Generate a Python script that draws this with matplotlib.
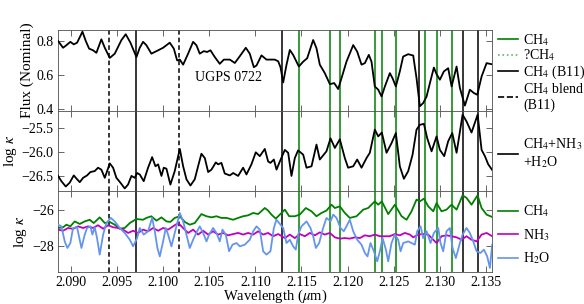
import numpy as np
import matplotlib
matplotlib.use("Agg")
import matplotlib.pyplot as plt
from matplotlib.lines import Line2D

plt.rcParams['font.family'] = ['Liberation Serif', 'DejaVu Serif']
plt.rcParams['mathtext.fontset'] = 'stix'
plt.rcParams['font.size'] = 10

# observed spectrum (top panel)
flux_wl = [2.08863, 2.08917, 2.08953, 2.08996, 2.09033, 2.09069, 2.09127, 2.09163, 2.09199,
           2.09242, 2.09278, 2.09332, 2.09369, 2.09423, 2.09477, 2.09549, 2.09596, 2.09647,
           2.09712, 2.09748, 2.09784, 2.09820, 2.09874, 2.09929, 2.10001, 2.10073, 2.10117,
           2.10153, 2.10182, 2.10218, 2.10272, 2.10326, 2.10362, 2.10398, 2.10442, 2.10478,
           2.10514, 2.10561, 2.10615, 2.10659, 2.10724, 2.10778, 2.10832, 2.10897, 2.10940,
           2.10984, 2.11013, 2.11067, 2.11121, 2.11164, 2.11211, 2.11248, 2.11273, 2.11302,
           2.11338, 2.11374, 2.11410, 2.11472, 2.11519, 2.11562, 2.11627, 2.11663, 2.11699,
           2.11753, 2.11808, 2.11855, 2.11898, 2.11934, 2.11988, 2.12061, 2.12104, 2.12151,
           2.12187, 2.12230, 2.12259, 2.12295, 2.12332, 2.12368, 2.12404, 2.12458, 2.12487,
           2.12523, 2.12566, 2.12602, 2.12657, 2.12711, 2.12747, 2.12783, 2.12819, 2.12856,
           2.12892, 2.12935, 2.12964, 2.13000, 2.13043, 2.13090, 2.13127, 2.13181, 2.13217,
           2.13271, 2.13325, 2.13369, 2.13405, 2.13452, 2.13506, 2.13560]
flux_val = [0.800, 0.760, 0.775, 0.795, 0.780, 0.790, 0.855, 0.800, 0.755,
            0.745, 0.730, 0.810, 0.760, 0.700, 0.725, 0.805, 0.840, 0.790,
            0.705, 0.760, 0.795, 0.775, 0.725, 0.740, 0.760, 0.790, 0.755,
            0.685, 0.690, 0.660, 0.725, 0.795, 0.775, 0.725, 0.740, 0.735,
            0.745, 0.705, 0.665, 0.690, 0.690, 0.670, 0.710, 0.760, 0.725,
            0.645, 0.655, 0.715, 0.690, 0.690, 0.690, 0.680, 0.645, 0.555,
            0.659, 0.747, 0.718, 0.649, 0.678, 0.698, 0.806, 0.757, 0.660,
            0.610, 0.545, 0.551, 0.516, 0.580, 0.678, 0.776, 0.737, 0.660,
            0.669, 0.718, 0.678, 0.531, 0.512, 0.472, 0.531, 0.610, 0.580,
            0.531, 0.620, 0.708, 0.722, 0.714, 0.580, 0.414, 0.433, 0.472,
            0.551, 0.643, 0.604, 0.571, 0.620, 0.639, 0.531, 0.649, 0.522,
            0.418, 0.512, 0.492, 0.482, 0.590, 0.669, 0.663]

# total opacity (middle panel)
tot_wl = [2.08863, 2.08899, 2.08946, 2.08989, 2.09033, 2.09069, 2.09098, 2.09134, 2.09177,
          2.09213, 2.09260, 2.09296, 2.09332, 2.09369, 2.09423, 2.09459, 2.09495, 2.09538,
          2.09585, 2.09621, 2.09658, 2.09694, 2.09719, 2.09748, 2.09791, 2.09838, 2.09882,
          2.09918, 2.09947, 2.09983, 2.10008, 2.10037, 2.10080, 2.10127, 2.10182, 2.10218,
          2.10254, 2.10297, 2.10344, 2.10380, 2.10416, 2.10453, 2.10489, 2.10525, 2.10572,
          2.10597, 2.10633, 2.10669, 2.10724, 2.10760, 2.10814, 2.10868, 2.10904, 2.10958,
          2.11005, 2.11049, 2.11103, 2.11139, 2.11164, 2.11201, 2.11230, 2.11266, 2.11320,
          2.11356, 2.11392, 2.11428, 2.11464, 2.11519, 2.11555, 2.11609, 2.11663, 2.11699,
          2.11771, 2.11815, 2.11862, 2.11916, 2.11970, 2.12006, 2.12061, 2.12104, 2.12151,
          2.12205, 2.12241, 2.12295, 2.12332, 2.12371, 2.12422, 2.12476, 2.12523, 2.12566,
          2.12610, 2.12657, 2.12704, 2.12747, 2.12783, 2.12827, 2.12863, 2.12910, 2.12964,
          2.13000, 2.13047, 2.13090, 2.13134, 2.13181, 2.13246, 2.13289, 2.13343, 2.13409,
          2.13452, 2.13488, 2.13524, 2.13568]
tot_val = [-26.49, -26.60, -26.71, -26.63, -26.48, -26.56, -26.62, -26.53, -26.48,
           -26.41, -26.39, -26.32, -26.36, -26.53, -26.23, -26.32, -26.53, -26.63,
           -26.75, -26.67, -26.49, -26.53, -26.43, -26.46, -26.60, -26.32, -26.10,
           -26.29, -26.25, -26.49, -26.32, -26.34, -26.67, -26.39, -25.93, -26.29,
           -26.56, -26.69, -26.56, -26.29, -26.03, -26.12, -26.41, -26.36, -26.21,
           -26.25, -26.22, -26.44, -26.48, -26.43, -26.49, -26.32, -26.46, -26.25,
           -26.00, -26.08, -25.93, -26.19, -26.22, -26.15, -26.36, -26.19, -25.95,
           -26.01, -26.49, -26.12, -25.96, -26.05, -26.32, -26.29, -25.84, -26.15,
           -25.98, -25.71, -25.91, -25.73, -26.12, -26.32, -26.29, -26.15, -26.32,
           -26.12, -26.01, -25.53, -25.67, -25.59, -26.01, -25.81, -25.60, -26.29,
           -26.55, -26.39, -26.05, -25.53, -25.43, -25.41, -25.71, -25.98, -25.67,
           -25.95, -26.08, -25.77, -25.60, -26.01, -25.22, -25.36, -25.59, -25.22,
           -25.95, -26.08, -26.25, -26.37]

# individual opacities (bottom panel)
ch4_wl = [2.08863, 2.08917, 2.08953, 2.08996, 2.09043, 2.09098, 2.09152, 2.09206, 2.09249,
          2.09314, 2.09369, 2.09423, 2.09477, 2.09531, 2.09585, 2.09640, 2.09712, 2.09784,
          2.09820, 2.09874, 2.09929, 2.09983, 2.10037, 2.10080, 2.10127, 2.10182, 2.10236,
          2.10290, 2.10344, 2.10416, 2.10471, 2.10525, 2.10579, 2.10633, 2.10687, 2.10760,
          2.10814, 2.10868, 2.10922, 2.10977, 2.11031, 2.11103, 2.11139, 2.11175, 2.11222,
          2.11266, 2.11320, 2.11367, 2.11428, 2.11482, 2.11547, 2.11609, 2.11663, 2.11717,
          2.11771, 2.11826, 2.11862, 2.11916, 2.11970, 2.12024, 2.12097, 2.12169, 2.12223,
          2.12295, 2.12332, 2.12371, 2.12440, 2.12512, 2.12585, 2.12639, 2.12693, 2.12747,
          2.12783, 2.12827, 2.12874, 2.12928, 2.12964, 2.13018, 2.13072, 2.13126, 2.13181,
          2.13246, 2.13289, 2.13343, 2.13408, 2.13452, 2.13506, 2.13567]
ch4_val = [-27.00, -26.96, -26.82, -26.91, -26.64, -26.78, -26.64, -26.55, -26.73,
           -26.42, -26.73, -26.67, -26.82, -27.04, -27.00, -26.73, -26.51, -26.55,
           -26.45, -26.36, -26.60, -26.42, -26.64, -26.67, -26.45, -26.36, -26.67,
           -26.82, -26.73, -26.24, -26.36, -26.42, -26.36, -26.45, -26.45, -26.55,
           -26.45, -26.36, -26.31, -26.18, -26.24, -25.91, -26.05, -26.27, -26.49,
           -26.27, -26.00, -26.36, -26.36, -26.27, -25.91, -26.09, -26.36, -26.18,
           -26.05, -25.73, -25.91, -25.82, -26.18, -26.45, -26.36, -26.00, -25.91,
           -25.55, -25.73, -25.55, -26.24, -25.73, -26.36, -26.55, -26.09, -25.45,
           -25.55, -25.40, -25.82, -26.09, -25.64, -26.09, -26.00, -25.73, -26.00,
           -25.22, -25.36, -25.73, -25.22, -25.91, -26.27, -26.40]

nh3_wl = [2.08863, 2.08917, 2.08971, 2.09025, 2.09079, 2.09134, 2.09188, 2.09242, 2.09296,
          2.09351, 2.09405, 2.09459, 2.09513, 2.09567, 2.09622, 2.09676, 2.09730, 2.09784,
          2.09838, 2.09893, 2.09947, 2.10001, 2.10055, 2.10109, 2.10164, 2.10218, 2.10272,
          2.10326, 2.10380, 2.10435, 2.10489, 2.10543, 2.10597, 2.10651, 2.10706, 2.10760,
          2.10814, 2.10868, 2.10922, 2.10977, 2.11031, 2.11085, 2.11139, 2.11193, 2.11248,
          2.11320, 2.11374, 2.11428, 2.11482, 2.11537, 2.11591, 2.11645, 2.11699, 2.11753,
          2.11808, 2.11862, 2.11916, 2.11970, 2.12024, 2.12079, 2.12133, 2.12187, 2.12241,
          2.12295, 2.12350, 2.12404, 2.12458, 2.12512, 2.12566, 2.12621, 2.12675, 2.12711,
          2.12765, 2.12819, 2.12874, 2.12928, 2.12964, 2.13018, 2.13072, 2.13126, 2.13181,
          2.13235, 2.13289, 2.13343, 2.13398, 2.13452, 2.13506, 2.13567]
nh3_val = [-27.09, -27.15, -27.00, -27.05, -26.91, -27.00, -26.91, -27.00, -26.85,
           -27.04, -26.85, -26.96, -27.00, -27.09, -27.27, -27.15, -27.27, -27.09,
           -27.18, -27.00, -27.15, -27.00, -27.09, -26.91, -26.73, -27.00, -27.27,
           -27.09, -27.36, -27.15, -27.36, -27.18, -27.36, -27.27, -27.40, -27.33,
           -27.27, -27.36, -27.27, -27.36, -27.18, -27.36, -27.27, -27.45, -27.33,
           -27.55, -27.36, -27.55, -27.33, -27.45, -27.27, -27.40, -27.24, -27.36,
           -27.27, -27.51, -27.58, -27.55, -27.58, -27.51, -27.55, -27.40, -27.45,
           -27.36, -27.45, -27.45, -27.45, -27.33, -27.40, -27.27, -27.36, -27.51,
           -27.36, -27.33, -27.36, -27.64, -27.82, -27.45, -27.40, -27.45, -27.51,
           -27.64, -27.45, -27.64, -27.73, -27.36, -27.27, -27.45]

h2o_wl = [2.08863, 2.08899, 2.08935, 2.08964, 2.08996, 2.09025, 2.09069, 2.09116, 2.09152,
          2.09177, 2.09213, 2.09235, 2.09260, 2.09285, 2.09314, 2.09351, 2.09387, 2.09434,
          2.09477, 2.09531, 2.09585, 2.09640, 2.09676, 2.09719, 2.09748, 2.09791, 2.09838,
          2.09882, 2.09911, 2.09939, 2.09965, 2.10001, 2.10030, 2.10055, 2.10091, 2.10127,
          2.10182, 2.10218, 2.10254, 2.10290, 2.10326, 2.10369, 2.10398, 2.10435, 2.10471,
          2.10500, 2.10543, 2.10579, 2.10615, 2.10644, 2.10680, 2.10716, 2.10753, 2.10796,
          2.10832, 2.10886, 2.10940, 2.10977, 2.11013, 2.11049, 2.11085, 2.11121, 2.11164,
          2.11201, 2.11229, 2.11302, 2.11338, 2.11374, 2.11410, 2.11439, 2.11464, 2.11500,
          2.11555, 2.11598, 2.11627, 2.11656, 2.11692, 2.11735, 2.11771, 2.11815, 2.11844,
          2.11880, 2.11923, 2.11959, 2.11988, 2.12024, 2.12061, 2.12104, 2.12151, 2.12187,
          2.12216, 2.12248, 2.12285, 2.12321, 2.12350, 2.12379, 2.12415, 2.12440, 2.12476,
          2.12512, 2.12548, 2.12574, 2.12603, 2.12657, 2.12693, 2.12729, 2.12754, 2.12791,
          2.12819, 2.12856, 2.12899, 2.12935, 2.12982, 2.13007, 2.13036, 2.13072, 2.13108,
          2.13137, 2.13173, 2.13217, 2.13246, 2.13289, 2.13325, 2.13361, 2.13398, 2.13441,
          2.13477, 2.13513, 2.13542, 2.13567]
h2o_val = [-26.82, -26.91, -27.73, -28.09, -27.82, -27.00, -26.96, -28.09, -27.36,
           -27.00, -26.91, -27.36, -26.96, -27.55, -28.45, -27.36, -26.73, -26.45,
           -26.64, -27.00, -27.27, -27.64, -28.00, -27.55, -27.00, -27.36, -27.18,
           -26.45, -27.18, -28.09, -28.55, -27.73, -27.00, -27.36, -28.00, -27.27,
           -26.18, -26.64, -27.36, -28.09, -27.64, -27.18, -26.91, -27.27, -27.73,
           -27.36, -27.00, -27.27, -27.73, -27.09, -27.36, -28.27, -27.91, -27.82,
           -28.00, -27.91, -27.64, -27.18, -26.91, -27.09, -28.27, -28.45, -28.27,
           -27.00, -26.55, -27.00, -27.82, -27.64, -28.00, -28.18, -27.36, -26.91,
           -26.64, -27.00, -27.45, -28.09, -27.82, -27.00, -26.45, -26.64, -26.27,
           -26.45, -27.00, -27.18, -26.91, -26.55, -27.18, -27.64, -27.91, -28.36,
           -28.55, -27.82, -28.27, -28.82, -28.27, -27.55, -28.18, -28.82, -27.82,
           -27.36, -27.64, -28.27, -27.82, -27.73, -27.82, -27.91, -27.18, -26.91,
           -27.55, -27.18, -27.82, -27.27, -27.00, -27.82, -28.27, -27.18, -27.00,
           -28.09, -28.64, -27.82, -27.36, -27.00, -27.27, -27.73, -28.27, -28.36,
           -28.18, -28.55, -29.18, -27.91]

# line identifications
ch4_lines = [2.11472, 2.11811, 2.11913, 2.12295, 2.12371, 2.12523, 2.12834, 2.12964, 2.13133]
b11_lines = [2.09712, 2.11291, 2.12772, 2.13246, 2.13409]
blend_lines = [2.09415, 2.10174]

fig = plt.figure(figsize=(5.84, 3.04), dpi=100)
gs = fig.add_gridspec(3, 1, hspace=0, left=0.0993, right=0.8425, top=0.9013, bottom=0.1053)
ax1 = fig.add_subplot(gs[0])
ax2 = fig.add_subplot(gs[1], sharex=ax1)
ax3 = fig.add_subplot(gs[2], sharex=ax1)

for ax in (ax1, ax2, ax3):
    for w in ch4_lines:
        ax.axvline(w, color='g', lw=1.1, zorder=1)
    for w in b11_lines:
        ax.axvline(w, color='k', lw=1.1, zorder=1)
    for w in blend_lines:
        ax.axvline(w, color='k', lw=1.1, ls=(0, (3, 2)), zorder=1)
    ax.tick_params(direction='in', top=True, right=True, length=4, width=0.6,
                   color='0.3', labelsize=10, pad=3)
    for s in ax.spines.values():
        s.set_linewidth(0.6)
        s.set_color('0.3')

ax1.plot(flux_wl, flux_val, color='k', lw=1.3, zorder=3)
ax1.set_ylim(0.388, 0.865)
ax1.set_yticks([0.4, 0.6, 0.8])
ax1.set_ylabel('Flux (Nominal)', fontsize=11, labelpad=2)
ax1.text(2.1071, 0.585, 'UGPS 0722', ha='center', va='center', fontsize=10)

ax2.plot(tot_wl, tot_val, color='k', lw=1.3, zorder=3)
ax2.set_ylim(-26.81, -25.136)
ax2.set_yticks([-26.5, -26.0, -25.5])
ax2.set_ylabel(r'log $\kappa$', fontsize=11, labelpad=2)

ax3.plot(ch4_wl, ch4_val, color='g', lw=1.3, zorder=3)
ax3.plot(nh3_wl, nh3_val, color='m', lw=1.3, zorder=3)
ax3.plot(h2o_wl, h2o_val, color='cornflowerblue', lw=1.3, zorder=3)
ax3.set_ylim(-29.4, -25.0)
ax3.set_yticks([-28, -26])
ax3.set_ylabel(r'log $\kappa$', fontsize=11, labelpad=2)
ax3.set_xlim(2.08862, 2.13565)
ax3.set_xticks([2.090, 2.095, 2.100, 2.105, 2.110, 2.115, 2.120, 2.125, 2.130, 2.135])
ax3.set_xticklabels(['%.3f' % t for t in ax3.get_xticks()])
ax3.set_xlabel(r'Wavelength ($\mu$m)', fontsize=10.5, labelpad=-1)
plt.setp(ax1.get_xticklabels(), visible=False)
plt.setp(ax2.get_xticklabels(), visible=False)

h1 = [Line2D([], [], color='g', lw=1.2),
      Line2D([], [], color='g', lw=1.2, ls=':', alpha=0.6),
      Line2D([], [], color='k', lw=1.2),
      Line2D([], [], color='k', lw=1.2, ls='--')]
ax1.legend(h1, [r'CH$_4$', r'?CH$_4$', r'CH$_4$ (B11)', 'CH$_4$ blend\n(B11)'],
           loc='upper left', bbox_to_anchor=(0.995, 1.08), frameon=False, fontsize=10,
           handlelength=1.4, handletextpad=0.4, labelspacing=0.0, borderaxespad=0.2)
ax2.legend([Line2D([], [], color='k', lw=1.2)], ['CH$_4$+NH$_3$\n+H$_2$O'],
           loc='center left', bbox_to_anchor=(0.995, 0.47), frameon=False, fontsize=10,
           handlelength=1.4, handletextpad=0.4, borderaxespad=0.2)
h3 = [Line2D([], [], color='g', lw=1.2),
      Line2D([], [], color='m', lw=1.2),
      Line2D([], [], color='cornflowerblue', lw=1.2)]
ax3.legend(h3, [r'CH$_4$', r'NH$_3$', r'H$_2$O'],
           loc='center left', bbox_to_anchor=(0.995, 0.46), frameon=False, fontsize=10,
           handlelength=1.4, handletextpad=0.4, labelspacing=0.55, borderaxespad=0.2)

fig.savefig('out.png', dpi=100)
